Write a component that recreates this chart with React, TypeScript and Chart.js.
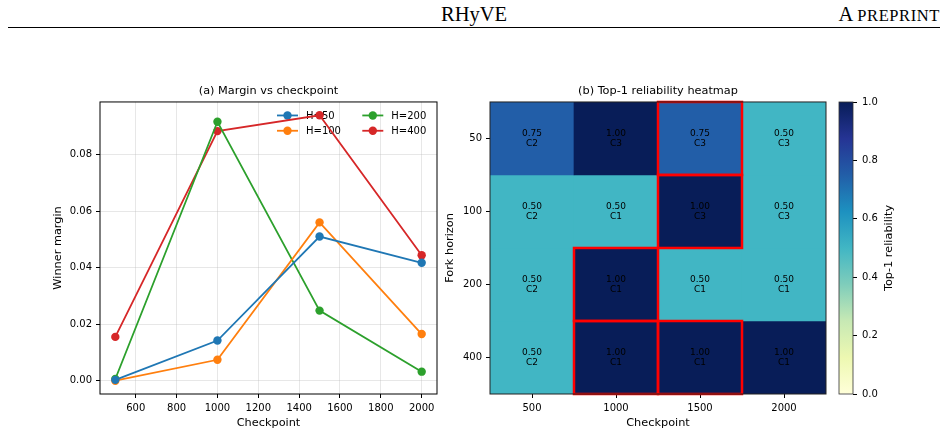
import React, { useEffect, useRef } from "react";
import { Chart, registerables } from "chart.js";

Chart.register(...registerables);
Chart.defaults.font.family = "'DejaVu Sans', sans-serif";
Chart.defaults.color = "#000";

// ---- Margin vs checkpoint ----
const checkpoints = [500, 1000, 1500, 2000];
const marginH50 = [0.0003, 0.0142, 0.051, 0.0417];
const marginH100 = [0.0, 0.0074, 0.056, 0.0165];
const marginH200 = [0.0006, 0.0916, 0.0248, 0.0032];
const marginH400 = [0.0155, 0.0883, 0.0939, 0.0444];
const seriesLabels = ["H=50", "H=100", "H=200", "H=400"];
const seriesColors = ["#1f77b4", "#ff7f0e", "#2ca02c", "#d62728"];
const xTickValues = [600, 800, 1000, 1200, 1400, 1600, 1800, 2000];
const yTickValues = [0, 0.02, 0.04, 0.06, 0.08];

// ---- Top-1 reliability heatmap ----
const checkpointLabels = ["500", "1000", "1500", "2000"];
const horizons = ["50", "100", "200", "400"];
const reliabilityH50 = [0.75, 1.0, 0.75, 0.5];
const reliabilityH100 = [0.5, 0.5, 1.0, 0.5];
const reliabilityH200 = [0.5, 1.0, 0.5, 0.5];
const reliabilityH400 = [0.5, 1.0, 1.0, 1.0];
const winnerH50 = ["C2", "C3", "C3", "C3"];
const winnerH100 = ["C2", "C1", "C3", "C3"];
const winnerH200 = ["C2", "C1", "C1", "C1"];
const winnerH400 = ["C2", "C1", "C1", "C1"];
const flaggedH50 = [false, false, true, false];
const flaggedH100 = [false, false, true, false];
const flaggedH200 = [false, true, false, false];
const flaggedH400 = [false, true, true, false];
const colorbarTicks = [0, 0.2, 0.4, 0.6, 0.8, 1.0];

const reliabilityRows = [reliabilityH50, reliabilityH100, reliabilityH200, reliabilityH400];
const winnerRows = [winnerH50, winnerH100, winnerH200, winnerH400];
const flaggedRows = [flaggedH50, flaggedH100, flaggedH200, flaggedH400];

const YLGNBU = ["#ffffd9", "#edf8b1", "#c7e9b4", "#7fcdbb", "#41b6c4", "#1d91c0", "#225ea8", "#253494", "#081d58"];

function hexToRgb(h: string) {
  const n = parseInt(h.slice(1), 16);
  return [(n >> 16) & 255, (n >> 8) & 255, n & 255];
}

function ylgnbu(v: number) {
  const t = Math.min(1, Math.max(0, v)) * 8;
  const i = Math.min(7, Math.floor(t));
  const f = t - i;
  const a = hexToRgb(YLGNBU[i]);
  const b = hexToRgb(YLGNBU[i + 1]);
  const c = a.map((x, k) => Math.round(x + (b[k] - x) * f));
  return `rgb(${c[0]},${c[1]},${c[2]})`;
}

const gridColor = "rgba(176,176,176,0.3)";
const FONT_TICK = 10;
const FONT_LABEL = 11.3;

const framePlugin = (color: string, width: number) => ({
  id: "frame",
  afterDraw(chart: any) {
    const { ctx, chartArea } = chart;
    const { left, top, right, bottom } = chartArea;
    ctx.save();
    ctx.strokeStyle = color;
    ctx.lineWidth = width;
    ctx.strokeRect(left, top, right - left, bottom - top);
    ctx.restore();
  },
});

// Two-column legend inside the upper right of the plot area
const insideLegend = {
  id: "insideLegend",
  beforeDatasetsDraw(chart: any) {
    const { ctx, chartArea } = chart;
    const ds = chart.data.datasets;
    const cols = [chartArea.right - 160, chartArea.right - 74.7];
    const rows = [chartArea.top + 13.5, chartArea.top + 28.8];
    ctx.save();
    ctx.font = `${FONT_TICK}px 'DejaVu Sans'`;
    ctx.textBaseline = "middle";
    ds.forEach((d: any, i: number) => {
      const x = cols[Math.floor(i / 2)];
      const y = rows[i % 2];
      ctx.strokeStyle = d.borderColor;
      ctx.lineWidth = 1.8;
      ctx.beginPath();
      ctx.moveTo(x, y);
      ctx.lineTo(x + 21, y);
      ctx.stroke();
      ctx.fillStyle = d.borderColor;
      ctx.beginPath();
      ctx.arc(x + 10.5, y, 4.2, 0, Math.PI * 2);
      ctx.fill();
      ctx.fillStyle = "#000";
      ctx.fillText(d.label, x + 29, y + 0.5);
    });
    ctx.restore();
  },
};

// Value and winner text in each cell, plus red outlines on flagged cells
const cellAnnotations = {
  id: "cellAnnotations",
  afterDatasetsDraw(chart: any) {
    const { ctx } = chart;
    ctx.save();
    ctx.font = `9px 'DejaVu Sans'`;
    ctx.textAlign = "center";
    ctx.textBaseline = "middle";
    ctx.fillStyle = "#000";
    chart.data.datasets.forEach((_d: any, r: number) => {
      const meta = chart.getDatasetMeta(r);
      meta.data.forEach((el: any, c: number) => {
        const cy = (el.y + el.base) / 2;
        ctx.fillText(reliabilityRows[r][c].toFixed(2), el.x, cy - 5);
        ctx.fillText(winnerRows[r][c], el.x, cy + 5);
      });
    });
    ctx.strokeStyle = "#ff0000";
    ctx.lineWidth = 2.5;
    chart.data.datasets.forEach((_d: any, r: number) => {
      const meta = chart.getDatasetMeta(r);
      meta.data.forEach((el: any, c: number) => {
        if (!flaggedRows[r][c]) return;
        const top = Math.min(el.y, el.base);
        const h = Math.abs(el.base - el.y);
        ctx.strokeRect(el.x - el.width / 2, top, el.width, h);
      });
    });
    ctx.restore();
  },
};

const colorbarLabel = {
  id: "colorbarLabel",
  afterDraw(chart: any) {
    const { ctx, chartArea } = chart;
    ctx.save();
    ctx.translate(chartArea.right + 36, (chartArea.top + chartArea.bottom) / 2);
    ctx.rotate(-Math.PI / 2);
    ctx.font = `${FONT_LABEL}px 'DejaVu Sans'`;
    ctx.textAlign = "center";
    ctx.textBaseline = "middle";
    ctx.fillStyle = "#000";
    ctx.fillText("Top-1 reliability", 0, 0);
    ctx.restore();
  },
};

function useChart(ref: React.RefObject<HTMLCanvasElement>, build: () => any) {
  useEffect(() => {
    if (!ref.current) return;
    const chart = new Chart(ref.current, build());
    return () => chart.destroy();
  }, []);
}

const tickFont = { size: FONT_TICK };
const labelFont = { size: FONT_LABEL };

function MarginChart() {
  const ref = useRef<HTMLCanvasElement>(null);
  useChart(ref, () => {
    const series = [marginH50, marginH100, marginH200, marginH400];
    return {
      type: "line",
      data: {
        datasets: series.map((vals, i) => ({
          label: seriesLabels[i],
          data: checkpoints.map((x, k) => ({ x, y: vals[k] })),
          borderColor: seriesColors[i],
          backgroundColor: seriesColors[i],
          borderWidth: 1.8,
          pointRadius: 4.2,
          pointBorderWidth: 0,
          tension: 0,
        })),
      },
      options: {
        animation: false,
        responsive: false,
        maintainAspectRatio: false,
        layout: { padding: { left: 0, right: 13, top: 0, bottom: 0 } },
        plugins: {
          legend: { display: false },
          tooltip: { enabled: false },
          title: {
            display: true,
            text: "(a) Margin vs checkpoint",
            fullSize: false,
            color: "#000",
            font: { size: FONT_LABEL, weight: "normal" },
            padding: { top: 4.2, bottom: 4.2 },
          },
        },
        scales: {
          x: {
            type: "linear",
            min: 425,
            max: 2075,
            afterBuildTicks: (s: any) => {
              s.ticks = xTickValues.map((v) => ({ value: v }));
            },
            grid: { color: gridColor, tickColor: "#000", tickLength: 4 },
            border: { display: false },
            ticks: { padding: 4, font: tickFont, color: "#000", maxRotation: 0, callback: (v: number) => String(v) },
            title: { display: true, text: "Checkpoint", color: "#000", font: labelFont, padding: { top: 0, bottom: 6 } },
            afterFit: (s: any) => {
              s.height = 42;
            },
          },
          y: {
            type: "linear",
            min: -0.0047,
            max: 0.0986,
            afterBuildTicks: (s: any) => {
              s.ticks = yTickValues.map((v) => ({ value: v }));
            },
            grid: { color: gridColor, tickColor: "#000", tickLength: 4 },
            border: { display: false },
            ticks: { padding: 4, font: tickFont, color: "#000", callback: (v: number) => v.toFixed(2) },
            title: { display: true, text: "Winner margin", color: "#000", font: labelFont, padding: { top: 51, bottom: 0 } },
            afterFit: (s: any) => {
              s.width = 100;
            },
          },
        },
      },
      plugins: [insideLegend, framePlugin("#000", 1)],
    };
  });
  return (
    <canvas
      ref={ref}
      width={450}
      height={356}
      style={{ position: "absolute", left: 0, top: 80, width: 450, height: 356 }}
    />
  );
}

function HeatmapChart() {
  const ref = useRef<HTMLCanvasElement>(null);
  useChart(ref, () => ({
    type: "bar",
    data: {
      labels: checkpointLabels,
      datasets: reliabilityRows.map((vals, r) => ({
        label: horizons[r],
        data: vals.map(() => 1),
        backgroundColor: vals.map(ylgnbu),
        borderWidth: 0,
        barPercentage: 1,
        categoryPercentage: 1,
      })),
    },
    options: {
      animation: false,
      responsive: false,
      maintainAspectRatio: false,
      layout: { padding: { left: 0, right: 9, top: 0, bottom: 0 } },
      plugins: {
        legend: { display: false },
        tooltip: { enabled: false },
        title: {
          display: true,
          text: "(b) Top-1 reliability heatmap",
          fullSize: false,
          color: "#000",
          font: { size: FONT_LABEL, weight: "normal" },
          padding: { top: 4.2, bottom: 4.2 },
        },
      },
      scales: {
        x: {
          stacked: true,
          grid: { offset: false, drawOnChartArea: false, tickColor: "#000", tickLength: 4 },
          border: { display: false },
          ticks: { padding: 4, font: tickFont, color: "#000", maxRotation: 0 },
          title: { display: true, text: "Checkpoint", color: "#000", font: labelFont, padding: { top: 0, bottom: 6 } },
          afterFit: (s: any) => {
            s.height = 42;
          },
        },
        y: {
          stacked: true,
          reverse: true,
          min: 0,
          max: 4,
          afterBuildTicks: (s: any) => {
            s.ticks = horizons.map((_h, i) => ({ value: i + 0.5 }));
          },
          grid: { drawOnChartArea: false, tickColor: "#000", tickLength: 4 },
          border: { display: false },
          ticks: {
            padding: 4,
            font: tickFont,
            color: "#000",
            callback: (v: number) => horizons[Math.floor(v)],
          },
          title: { display: true, text: "Fork horizon", color: "#000", font: labelFont, padding: { top: 3.5, bottom: 0 } },
          afterFit: (s: any) => {
            s.width = 50;
          },
        },
      },
    },
    plugins: [cellAnnotations, framePlugin("#222", 1)],
  }));
  return (
    <canvas
      ref={ref}
      width={395}
      height={356}
      style={{ position: "absolute", left: 440, top: 80, width: 395, height: 356 }}
    />
  );
}

function Colorbar() {
  const ref = useRef<HTMLCanvasElement>(null);
  useChart(ref, () => ({
    type: "bar",
    data: {
      labels: ["Top-1 reliability"],
      datasets: [
        {
          data: [1],
          borderWidth: 0,
          barPercentage: 1,
          categoryPercentage: 1,
          backgroundColor: (c: any) => {
            const area = c.chart.chartArea;
            if (!area) return YLGNBU[4];
            const g = c.chart.ctx.createLinearGradient(0, area.bottom, 0, area.top);
            YLGNBU.forEach((col, i) => g.addColorStop(i / (YLGNBU.length - 1), col));
            return g;
          },
        },
      ],
    },
    options: {
      animation: false,
      responsive: false,
      maintainAspectRatio: false,
      layout: { padding: { left: 9, right: 0, top: 22, bottom: 42 } },
      plugins: { legend: { display: false }, tooltip: { enabled: false } },
      scales: {
        x: { display: false },
        y: {
          position: "right",
          min: 0,
          max: 1,
          afterBuildTicks: (s: any) => {
            s.ticks = colorbarTicks.map((v) => ({ value: v }));
          },
          grid: { drawOnChartArea: false, tickColor: "#000", tickLength: 4 },
          border: { display: false },
          ticks: { padding: 5, font: tickFont, color: "#000", callback: (v: number) => v.toFixed(1) },
          afterFit: (s: any) => {
            s.width = 95;
          },
        },
      },
    },
    plugins: [framePlugin("#333", 0.8), colorbarLabel],
  }));
  return (
    <canvas
      ref={ref}
      width={118}
      height={356}
      style={{ position: "absolute", left: 830, top: 80, width: 118, height: 356 }}
    />
  );
}

export default function App() {
  return (
    <div
      style={{
        position: "fixed",
        left: 0,
        top: 0,
        width: 948,
        height: 436,
        background: "#fff",
        overflow: "hidden",
      }}
    >
      <div
        style={{
          position: "absolute",
          left: 0,
          width: 948,
          top: 2,
          textAlign: "center",
          fontFamily: "'Liberation Serif', serif",
          fontSize: 20.5,
          lineHeight: "24px",
          color: "#000",
        }}
      >
        RHyVE
      </div>
      <div
        style={{
          position: "absolute",
          right: 8,
          top: 2,
          fontFamily: "'Liberation Serif', serif",
          fontSize: 20.5,
          lineHeight: "24px",
          color: "#000",
          whiteSpace: "nowrap",
        }}
      >
        A <span style={{ fontSize: 16.5, letterSpacing: 0.6 }}>PREPRINT</span>
      </div>
      <div style={{ position: "absolute", left: 8, top: 27, width: 932, height: 1, background: "#000" }} />
      <MarginChart />
      <HeatmapChart />
      <Colorbar />
    </div>
  );
}
